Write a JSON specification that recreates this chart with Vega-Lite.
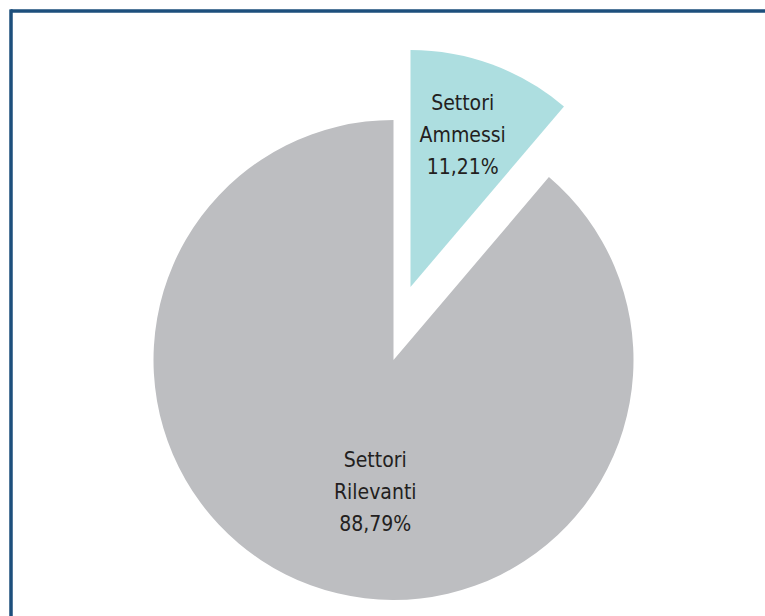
{
  "$schema": "https://vega.github.io/schema/vega-lite/v6.json",
  "width": 754,
  "height": 605,
  "padding": {"left": 11, "top": 11, "right": 0, "bottom": 0},
  "autosize": {"type": "none"},
  "background": "white",
  "view": {"stroke": null},
  "data": {
    "values": [
      {"categoria": "Settori Ammessi", "ordine": 1, "pct": 11.21, "label": "Settori\nAmmessi\n11,21%"},
      {"categoria": "Settori Rilevanti", "ordine": 2, "pct": 88.79, "label": "Settori\nRilevanti\n88,79%"}
    ]
  },
  "layer": [
    {
      "mark": {"type": "arc", "radius": 240, "stroke": null, "xOffset": 5.5, "yOffset": 46.5},
      "encoding": {
        "theta": {"field": "pct", "type": "quantitative", "stack": true},
        "order": {"field": "ordine", "type": "quantitative"},
        "color": {
          "field": "categoria",
          "type": "nominal",
          "scale": {"domain": ["Settori Ammessi", "Settori Rilevanti"], "range": ["#addee0", "#bdbec1"]},
          "legend": null
        },
        "opacity": {"condition": {"test": "datum.categoria === 'Settori Ammessi'", "value": 0}, "value": 1}
      }
    },
    {
      "mark": {"type": "arc", "radius": 237, "stroke": null, "xOffset": 22.5, "yOffset": -26.5},
      "encoding": {
        "theta": {"field": "pct", "type": "quantitative", "stack": true},
        "order": {"field": "ordine", "type": "quantitative"},
        "color": {"field": "categoria", "type": "nominal", "legend": null},
        "opacity": {"condition": {"test": "datum.categoria === 'Settori Ammessi'", "value": 1}, "value": 0}
      }
    },
    {
      "mark": {"type": "text", "radius": 140, "xOffset": 5.5, "yOffset": 46.5, "dx": 30, "dy": -30, "font": "DejaVu Sans Condensed", "fontSize": 21, "lineHeight": 32, "lineBreak": "\n", "color": "#231f20", "align": "center", "baseline": "middle"},
      "encoding": {
        "theta": {"field": "pct", "type": "quantitative", "stack": true},
        "order": {"field": "ordine", "type": "quantitative"},
        "detail": {"field": "categoria", "type": "nominal"},
        "text": {"field": "label", "type": "nominal"},
        "opacity": {"condition": {"test": "datum.categoria === 'Settori Ammessi'", "value": 0}, "value": 1}
      }
    },
    {
      "mark": {"type": "text", "radius": 160, "xOffset": 22.5, "yOffset": -26.5, "dx": -3, "dy": -33, "font": "DejaVu Sans Condensed", "fontSize": 21, "lineHeight": 32, "lineBreak": "\n", "color": "#231f20", "align": "center", "baseline": "middle"},
      "encoding": {
        "theta": {"field": "pct", "type": "quantitative", "stack": true},
        "order": {"field": "ordine", "type": "quantitative"},
        "detail": {"field": "categoria", "type": "nominal"},
        "text": {"field": "label", "type": "nominal"},
        "opacity": {"condition": {"test": "datum.categoria === 'Settori Ammessi'", "value": 1}, "value": 0}
      }
    },
    {
      "mark": {"type": "rule", "stroke": "#1d4f7c", "strokeWidth": 3},
      "encoding": {"y": {"value": 0}}
    },
    {
      "mark": {"type": "rule", "stroke": "#1d4f7c", "strokeWidth": 3},
      "encoding": {"x": {"value": 0}, "y": {"value": -1.5}, "y2": {"value": "height"}}
    }
  ]
}
